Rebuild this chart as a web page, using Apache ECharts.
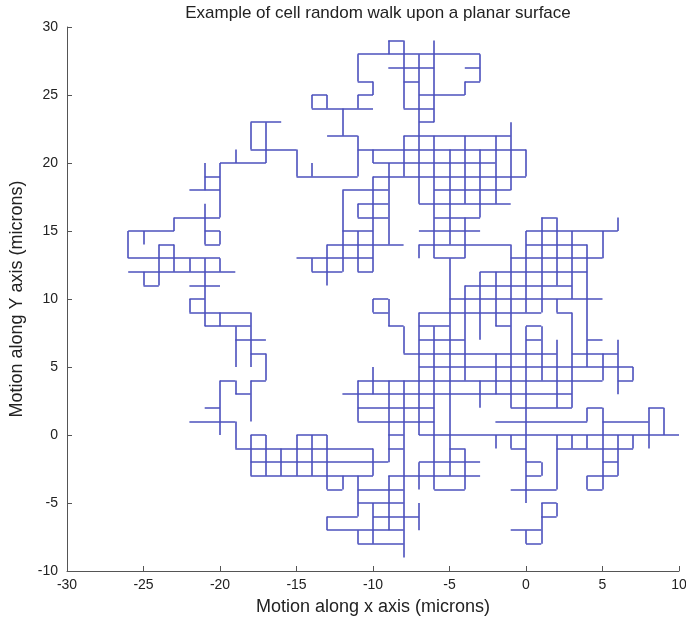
<!DOCTYPE html>
<html>
<head>
<meta charset="UTF-8">
<title>Cell random walk</title>
<script src="https://cdn.jsdelivr.net/npm/echarts@6/dist/echarts.min.js"></script>
<style>
  html, body { margin: 0; padding: 0; background: #fff; }
  #chart { width: 686px; height: 628px; }
</style>
</head>
<body>
<div id="chart"></div>
<script>
// axis ticks
const xTicks = [-30, -25, -20, -15, -10, -5, 0, 5, 10];
const yTicks = [-10, -5, 0, 5, 10, 15, 20, 25, 30];

// horizontal steps of the walk: [y, xFrom, xTo]
const hSteps = [
  [29, -9, -8],
  [28, -11, -3],
  [27, -9, -6], [27, -4, -3],
  [26, -11, -10], [26, -8, -7], [26, -4, -3],
  [25, -14, -13], [25, -11, -10], [25, -7, -4],
  [24, -14, -10], [24, -8, -6],
  [23, -18, -16], [23, -7, -6],
  [22, -13, -11], [22, -8, -1],
  [21, -18, -15], [21, -11, 0],
  [20, -20, -17], [20, -10, -2],
  [19, -21, -20], [19, -15, -11], [19, -10, 0],
  [18, -22, -20], [18, -12, -9], [18, -6, -1],
  [17, -11, -9], [17, -7, -1],
  [16, -23, -20], [16, -11, -9], [16, -6, -3], [16, 1, 2],
  [15, -26, -23], [15, -21, -20], [15, -12, -10], [15, -7, -3], [15, 0, 6],
  [14, -24, -23], [14, -21, -20], [14, -13, -8], [14, -7, -1], [14, 0, 4],
  [13, -26, -20], [13, -15, -10], [13, -6, -4], [13, -1, 5],
  [12, -26, -19], [12, -14, -12], [12, -11, -10], [12, -3, 4],
  [11, -25, -24], [11, -22, -20], [11, -4, 3],
  [10, -22, -21], [10, -10, -9], [10, -5, 5],
  [9, -22, -18], [9, -10, -9], [9, -7, 1], [9, 2, 3],
  [8, -21, -18], [8, -9, -8], [8, -7, -5], [8, -2, -1], [8, 0, 1],
  [7, -19, -17], [7, -7, -4], [7, 0, 1], [7, 4, 5],
  [6, -18, -17], [6, -8, 2], [6, 3, 6],
  [5, -7, 7],
  [4, -20, -19], [4, -18, -17], [4, -11, 5], [4, 6, 7],
  [3, -19, -18], [3, -12, 3],
  [2, -21, -20], [2, -11, -6], [2, -1, 3], [2, 4, 5], [2, 8, 9],
  [1, -22, -19], [1, -11, -6], [1, -2, 4], [1, 5, 8],
  [0, -18, -17], [0, -15, -13], [0, -9, -8], [0, -7, 10],
  [-1, -19, -10], [-1, -9, -8], [-1, -5, -4], [-1, -1, 0], [-1, 2, 7],
  [-2, -18, -9], [-2, -7, -3], [-2, 0, 1], [-2, 5, 6],
  [-3, -18, -10], [-3, -9, -3], [-3, 0, 1], [-3, 4, 6],
  [-4, -13, -12], [-4, -11, -8], [-4, -6, -4], [-4, -1, 2], [-4, 4, 5],
  [-5, -11, -8], [-5, 1, 2],
  [-6, -13, -11], [-6, -10, -7], [-6, 1, 2],
  [-7, -13, -8], [-7, -1, 1],
  [-8, -11, -8], [-8, 0, 1]
];

// vertical steps of the walk: [x, yFrom, yTo]
const vSteps = [
  [-26, 13, 15],
  [-25, 14, 15], [-25, 11, 12],
  [-24, 11, 14],
  [-23, 12, 14], [-23, 15, 16],
  [-22, 12, 13], [-22, 9, 10],
  [-21, 18, 20], [-21, 14, 17], [-21, 8, 13],
  [-20, 16, 20], [-20, 14, 15], [-20, 12, 13], [-20, 8, 9], [-20, 0, 4],
  [-19, 20, 21], [-19, 5, 8], [-19, 3, 4], [-19, -1, 1],
  [-18, 21, 23], [-18, 5, 9], [-18, 1, 4], [-18, -3, 0],
  [-17, 20, 23], [-17, 4, 6], [-17, -3, 0],
  [-16, -3, -1],
  [-15, 19, 21], [-15, -3, 0],
  [-14, 24, 25], [-14, 19, 20], [-14, 12, 13], [-14, -3, 0],
  [-13, 24, 25], [-13, 11, 14], [-13, -4, 0], [-13, -7, -6],
  [-12, 22, 24], [-12, 12, 18], [-12, -4, -3],
  [-11, 26, 28], [-11, 24, 25], [-11, 19, 22], [-11, 16, 17], [-11, 12, 15], [-11, 1, 4], [-11, -6, -3], [-11, -8, -7],
  [-10, 25, 26], [-10, 20, 21], [-10, 12, 19], [-10, 9, 10], [-10, 3, 5], [-10, -3, -1], [-10, -8, -5],
  [-9, 28, 29], [-9, 14, 20], [-9, 8, 10], [-9, -2, 4], [-9, -7, -3],
  [-8, 24, 29], [-8, 19, 22], [-8, 6, 8], [-8, -9, 4],
  [-7, 17, 28], [-7, 13, 14], [-7, 0, 9], [-7, -4, -2], [-7, -7, -5],
  [-6, 23, 29], [-6, 13, 22], [-6, 0, 8], [-6, -4, 0],
  [-5, 14, 21], [-5, 0, 13], [-5, -3, 0],
  [-4, 25, 26], [-4, 17, 22], [-4, 13, 16], [-4, 10, 11], [-4, 4, 10], [-4, -4, -1],
  [-3, 26, 28], [-3, 16, 21], [-3, 7, 12], [-3, 2, 4],
  [-2, 17, 22], [-2, 8, 12], [-2, 3, 6], [-2, -1, 0],
  [-1, 18, 23], [-1, 2, 14], [-1, -1, 0],
  [0, 19, 21], [0, 9, 15], [0, 0, 8], [0, -5, 0], [0, -8, -7],
  [1, 9, 16], [1, 4, 8], [1, -3, -2], [1, -8, -5],
  [2, 11, 16], [2, 9, 10], [2, 2, 7], [2, -4, 0], [2, -6, -5],
  [3, 10, 15], [3, 2, 9], [3, -1, 0],
  [4, 5, 14], [4, 1, 2], [4, -1, 0], [4, -4, -3],
  [5, 13, 15], [5, 4, 6], [5, 0, 2], [5, -4, 0],
  [6, 15, 16], [6, 3, 7], [6, -3, 0],
  [7, 4, 5], [7, -1, 0],
  [8, 0, 2], [8, -1, 0],
  [9, 0, 2]
];

const segs = [];
hSteps.forEach(function (s) { segs.push({ coords: [[s[1], s[0]], [s[2], s[0]]] }); });
vSteps.forEach(function (s) { segs.push({ coords: [[s[0], s[1]], [s[0], s[2]]] }); });

const chart = echarts.init(document.getElementById('chart'));
const font = '"Liberation Sans", Arial, sans-serif';
chart.setOption({
  animation: false,
  title: {
    text: 'Example of cell random walk upon a planar surface',
    left: 373, top: 0, textAlign: 'center',
    textStyle: { fontFamily: font, fontSize: 17, fontWeight: 'normal', color: '#222' }
  },
  grid: { left: 67, right: 7, top: 27, bottom: 57, outerBoundsMode: 'none', containLabel: false },
  xAxis: {
    type: 'value', min: -30, max: 10, interval: 5,
    name: 'Motion along x axis (microns)', nameLocation: 'middle', nameGap: 27,
    nameTextStyle: { fontFamily: font, fontSize: 18, color: '#222' },
    axisLine: { onZero: false, lineStyle: { color: '#555' } },
    axisTick: { inside: true, length: 5, lineStyle: { color: '#555' } },
    axisLabel: { fontFamily: font, fontSize: 14, color: '#222', margin: 7 },
    splitLine: { show: false }
  },
  yAxis: {
    type: 'value', min: -10, max: 30, interval: 5,
    name: 'Motion along Y axis (microns)', nameLocation: 'middle', nameGap: 41,
    nameTextStyle: { fontFamily: font, fontSize: 18, color: '#222' },
    axisLine: { show: true, onZero: false, lineStyle: { color: '#555' } },
    axisTick: { show: true, inside: true, length: 5, lineStyle: { color: '#555' } },
    axisLabel: { fontFamily: font, fontSize: 14, color: '#222', margin: 9 },
    splitLine: { show: false }
  },
  series: [{
    type: 'lines',
    coordinateSystem: 'cartesian2d',
    polyline: false,
    silent: true,
    lineStyle: { color: '#4b50bd', width: 1.6, opacity: 1 },
    data: segs
  }]
});
</script>
</body>
</html>
